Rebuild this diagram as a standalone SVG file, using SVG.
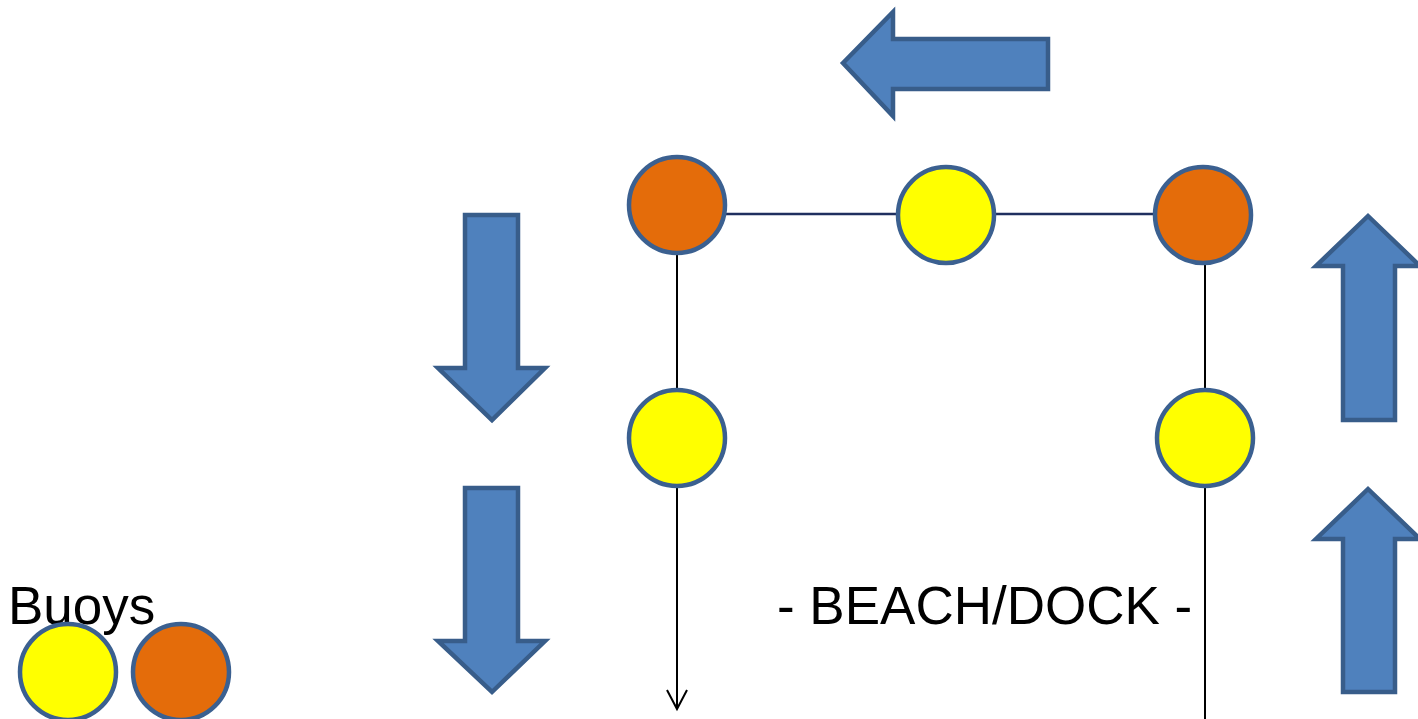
<svg xmlns="http://www.w3.org/2000/svg" width="1418" height="719" viewBox="0 0 1418 719">
<style>
.arrow{fill:#4f81bd;stroke:#385d8a;stroke-width:4.5;stroke-linejoin:miter}
.buoy{stroke:#3b6090;stroke-width:4.5}
.y{fill:#ffff00}
.o{fill:#e46c0a}
.lbl{font-family:"Liberation Sans",Arial,sans-serif;font-size:53px;fill:#000}
</style>
<defs>
<marker id="vhead" markerWidth="24" markerHeight="24" refX="20" refY="11" orient="auto" markerUnits="userSpaceOnUse" viewBox="0 0 24 24">
<path d="M1,1 L20,11 L1,21" fill="none" stroke="#000" stroke-width="2"/>
</marker>
</defs>
<g id="connectors">
<line x1="726" y1="214" x2="1156" y2="214" stroke="#1f2f5f" stroke-width="2.5"/>
<line x1="677" y1="254" x2="677" y2="709" stroke="#000" stroke-width="2" marker-end="url(#vhead)"/>
<line x1="1205" y1="264" x2="1205" y2="719" stroke="#000" stroke-width="2"/>
</g>
<g id="arrow-left"><path class="arrow" d="M843,63 L893,12 L893,39 L1048,39 L1048,89 L893,89 L893,116 Z"/></g>
<g id="arrow-down-1"><path class="arrow" d="M465,215 L518,215 L518,368 L545,368 L492,420 L438,368 L465,368 Z"/></g>
<g id="arrow-down-2"><path class="arrow" d="M465,488 L518,488 L518,641 L545,641 L492,692 L438,641 L465,641 Z"/></g>
<g id="arrow-up-1"><path class="arrow" d="M1368,216 L1420,266 L1395,266 L1395,420 L1343,420 L1343,266 L1316,266 Z"/></g>
<g id="arrow-up-2"><path class="arrow" d="M1368,489 L1420,539 L1395,539 L1395,692 L1343,692 L1343,539 L1316,539 Z"/></g>
<g id="buoy-top-left"><circle class="buoy o" cx="677" cy="205" r="48"/></g>
<g id="buoy-top-mid"><circle class="buoy y" cx="946" cy="215" r="48"/></g>
<g id="buoy-top-right"><circle class="buoy o" cx="1203" cy="215" r="48"/></g>
<g id="buoy-mid-left"><circle class="buoy y" cx="677" cy="438" r="48"/></g>
<g id="buoy-mid-right"><circle class="buoy y" cx="1205" cy="438" r="48"/></g>
<g id="legend">
<text class="lbl" x="8" y="624">Buoys</text>
<circle class="buoy y" cx="68" cy="672" r="48"/>
<circle class="buoy o" cx="181" cy="672" r="48"/>
</g>
<g id="beach-label"><text class="lbl" x="777" y="624">- BEACH/DOCK -</text></g>
</svg>
